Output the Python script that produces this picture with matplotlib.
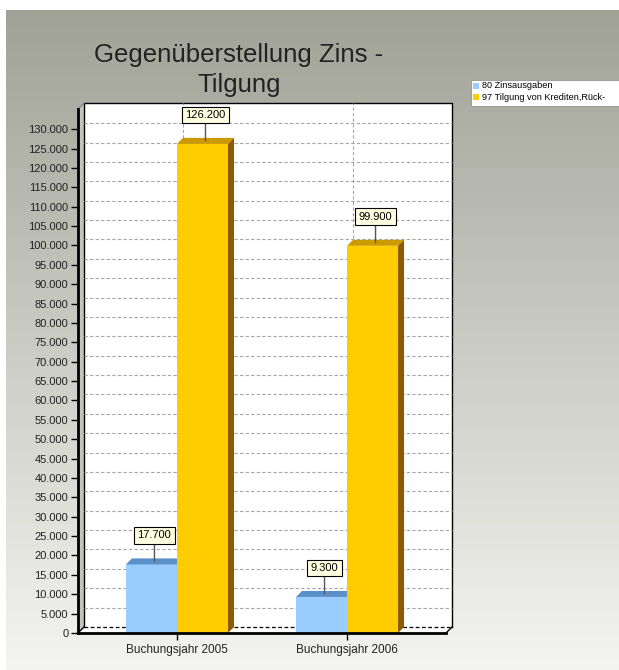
import matplotlib
matplotlib.use('Agg')
import matplotlib.pyplot as plt
import matplotlib.transforms as mtransforms
from matplotlib.patches import Polygon, Rectangle
import numpy as np

# Data
categories = ['Buchungsjahr 2005', 'Buchungsjahr 2006']
zins = [17700, 9300]
tilgung = [126200, 99900]
series_names = ['80 Zinsausgaben', '97 Tilgung von Krediten,Rück-']
yticks = np.arange(0, 130001, 5000)

plt.rcParams['font.family'] = ['Liberation Sans', 'DejaVu Sans']

W, H = 619, 670
fig = plt.figure(figsize=(W / 100, H / 100), dpi=100)
fig.patch.set_facecolor('white')


def fx(px):
    return px / W


def fy(py):
    return 1 - py / H


def fmt(v):
    return f'{v:,.0f}'.replace(',', '.')


# gradient background panel
bg = fig.add_axes([fx(6), 0, 1 - fx(6), fy(10)], zorder=-5)
g = np.linspace(0, 1, 256)[:, None, None]
c_top = np.array([160, 162, 150]) / 255
c_bot = np.array([244, 244, 241]) / 255
bg.imshow(c_top + (c_bot - c_top) * g, aspect='auto', extent=[0, 1, 0, 1])
bg.axis('off')

# main axes = front frame of the 3d box
ax = fig.add_axes([fx(78), fy(633), fx(446) - fx(78), fy(109) - fy(633)])
ax.set_xlim(-0.582, 1.582)
ax.set_ylim(0, 135200)
ax.patch.set_visible(False)

D = 6  # depth in pixels
ident = mtransforms.IdentityTransform()
back_ax = mtransforms.offset_copy(ax.transAxes, fig=fig, x=D, y=D, units='dots')
back_data = mtransforms.offset_copy(ax.transData, fig=fig, x=D, y=D, units='dots')
half_data = mtransforms.offset_copy(ax.transData, fig=fig, x=D / 2, y=D / 2, units='dots')


def disp(x, y, tr=None):
    return (tr or ax.transData).transform((x, y))


d = np.array([D, D])

# back wall
ax.add_patch(Rectangle((0, 0), 1, 1, transform=back_ax, fc='white', ec='none',
                       zorder=0.5, clip_on=False))
ax.plot([0, 0, 1, 1], [0, 1, 1, 0], transform=back_ax, color='black', lw=1,
        zorder=0.7, clip_on=False)

# left wall and floor
p0 = disp(0, 0, ax.transAxes)
p1 = disp(0, 1, ax.transAxes)
p2 = disp(1, 0, ax.transAxes)
ax.add_patch(Polygon([p0, p1, p1 + d, p0 + d], closed=True, transform=ident,
                     fc='#c3c4ba', ec='none', zorder=0.6, clip_on=False))
ax.add_patch(Polygon([p0, p2, p2 + d, p0 + d], closed=True, transform=ident,
                     fc='white', ec='none', zorder=0.6, clip_on=False))
ax.plot([p1[0], p1[0] + D], [p1[1], p1[1] + D], transform=ident, color='#888888',
        lw=1, clip_on=False, zorder=5)
ax.plot([p0[0], p0[0] + D], [p0[1], p0[1] + D], transform=ident, color='black',
        lw=1, clip_on=False, zorder=5)
ax.plot([p2[0], p2[0] + D], [p2[1], p2[1] + D], transform=ident, color='black',
        lw=1, clip_on=False, zorder=5)

# grid on back wall
xl = ax.get_xlim()
for v in yticks[1:]:
    ax.plot(xl, [v, v], transform=back_data, color='#a6a6a6', lw=0.8,
            ls=(0, (3, 2)), zorder=1, clip_on=False)
ax.plot(xl, [0, 0], transform=back_data, color='black', lw=0.9,
        ls=(0, (3, 2)), zorder=1, clip_on=False)
for i in range(len(categories)):
    ax.plot([i, i], [0, ax.get_ylim()[1]], transform=back_data, color='#a6a6a6',
            lw=0.8, ls=(0, (3, 2)), zorder=1, clip_on=False)

# bars
bw = 0.3
x = np.arange(len(categories))
colors = [('#99ccff', '#5b8fc8', '#3f6f9f'), ('#ffcc00', '#cc9900', '#8c5a00')]
for k, (vals, xs) in enumerate([(zins, x - bw), (tilgung, x)]):
    front, topc, sidec = colors[k]
    bars = ax.bar(xs, vals, width=bw, align='edge', color=front, zorder=2 + k)
    for b in bars:
        x0, x1, h = b.get_x(), b.get_x() + b.get_width(), b.get_height()
        q00, q10, q11, q01 = disp(x0, 0), disp(x1, 0), disp(x1, h), disp(x0, h)
        ax.add_patch(Polygon([q01, q11, q11 + d, q01 + d], closed=True, transform=ident,
                             fc=topc, ec='none', zorder=2 + k, clip_on=False))
        ax.add_patch(Polygon([q10, q10 + d, q11 + d, q11], closed=True, transform=ident,
                             fc=sidec, ec='none', zorder=2 + k, clip_on=False))
    for xi, v in zip(xs, vals):
        ax.annotate(fmt(v), xy=(xi + bw / 2, v), xycoords=half_data,
                    xytext=(0, 26), textcoords='offset pixels',
                    ha='center', va='center', fontsize=8, zorder=8,
                    bbox=dict(boxstyle='square,pad=0.3', fc='#ffffe1', ec='black', lw=0.8),
                    arrowprops=dict(arrowstyle='-', color='#555555', lw=1,
                                    shrinkA=0, shrinkB=0))

# axes styling
for s in ['top', 'right']:
    ax.spines[s].set_visible(False)
ax.spines['left'].set_linewidth(2)
ax.spines['bottom'].set_linewidth(2)
ax.spines['left'].set_zorder(6)
ax.spines['bottom'].set_zorder(6)
ax.set_yticks(yticks)
ax.set_yticklabels([fmt(v) for v in yticks])
ax.set_xticks(x)
ax.set_xticklabels(categories)
ax.tick_params(axis='y', length=5, width=1, labelsize=8, pad=2, labelcolor='#222222')
ax.tick_params(axis='x', length=5, width=1, labelsize=8.5, pad=3, labelcolor='#222222')

# title
fig.text(fx(239), fy(62), 'Gegenüberstellung Zins -', ha='center', va='baseline',
         fontsize=18.5, color='#222222')
fig.text(fx(239), fy(92), 'Tilgung', ha='center', va='baseline',
         fontsize=18.5, color='#222222')

# legend
fig.patches.append(Rectangle((fx(471), fy(106)), 0.5, fy(80) - fy(106),
                             transform=fig.transFigure, fc='white', ec='#a0a0a0', lw=0.8))
for i, (name, c) in enumerate(zip(series_names, ['#99ccff', '#ffcc00'])):
    yc = 86 + i * 11
    fig.patches.append(Rectangle((fx(473), fy(yc + 3)), fx(6), fy(yc - 3) - fy(yc + 3),
                                 transform=fig.transFigure, fc=c, ec='none'))
    fig.text(fx(482), fy(yc), name, va='center', fontsize=6.6, color='black')

fig.savefig('out.png', dpi=100)
